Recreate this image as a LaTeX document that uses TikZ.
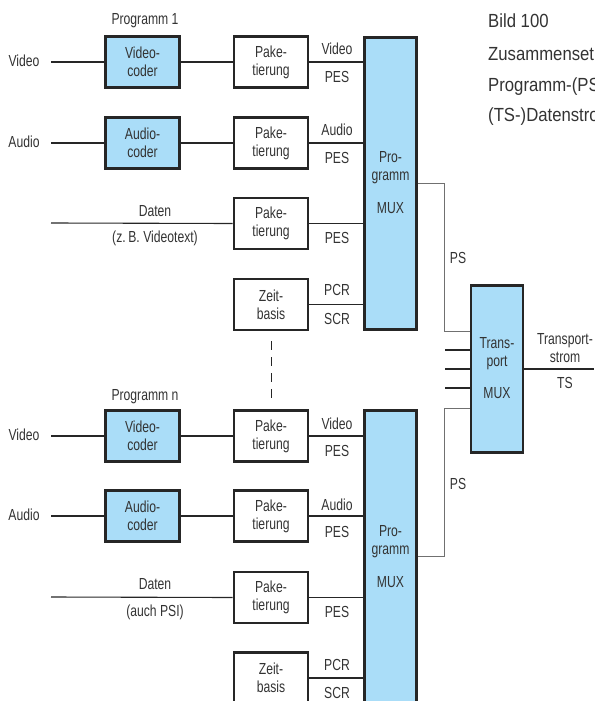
\documentclass[tikz,border=0pt]{standalone}
\usepackage{fontspec}
\setmainfont[FakeStretch=0.76]{Liberation Sans}
\newfontfamily\capfont[FakeStretch=0.88]{Liberation Sans}
\definecolor{boxfill}{HTML}{AADDF8}
\definecolor{txt}{HTML}{333333}
\definecolor{edge}{HTML}{262626}
\definecolor{psline}{HTML}{707070}
\begin{document}
\begin{tikzpicture}[x=1pt,y=-1pt,
  every node/.style={font=\fontsize{16}{18}\selectfont, text=txt, inner sep=0pt},
  blk/.style={draw=edge, line width=2.6pt, minimum width=74pt, minimum height=51pt, align=center},
  coder/.style={blk, fill=boxfill},
  mux/.style={draw=edge, line width=2.6pt, fill=boxfill, minimum width=52pt, align=center},
  wire/.style={line width=1.1pt, draw=edge},
  pswire/.style={line width=1pt, draw=psline},
  lbl/.style={align=center},
  captxt/.style={anchor=west, font=\capfont\fontsize{19}{22}\selectfont}
]
\useasboundingbox (0,0) rectangle (594,701);
\begin{scope}
\clip (0,0) rectangle (594,701);

% ---------- Program 1 ----------
\node[lbl] (p1) at (145,21) {Programm 1};
\node[coder] (vc1) at (142.5,62) {Video-\\coder};
\node[coder] (ac1) at (142.5,143) {Audio-\\coder};
\node[blk] (pk1) at (271,62) {Pake-\\tierung};
\node[blk] (pk2) at (271,143) {Pake-\\tierung};
\node[blk] (pk3) at (271,223.5) {Pake-\\tierung};
\node[blk] (zb1) at (271,304.5) {Zeit-\\basis};
\node[mux, minimum height=292pt] (mux1) at (390.5,183.5) {};
\node[lbl] (m1a) at (390.5,168) {Pro-\\gramm};
\node[lbl] (m1b) at (390.5,208) {MUX};

\node[lbl] (vin1) at (24,61) {Video};
\node[lbl] (ain1) at (24,142) {Audio};
\coordinate (vs1) at (51,62);
\coordinate (as1) at (51,143);
\coordinate (ds1) at (51,223);
\draw[wire] (vs1) -- (vc1.west);
\draw[wire] (as1) -- (ac1.west);
\draw[wire] (vc1.east) -- (pk1.west);
\draw[wire] (ac1.east) -- (pk2.west);
\draw[wire] (ds1) -- (pk3.west);
\node[lbl] (dl1) at (155,211) {Daten};
\node[lbl] (dl1b) at (155,238) {(z.\,B. Videotext)};

\draw[wire] (pk1.east) -- (pk1.east -| mux1.west);
\draw[wire] (pk2.east) -- (pk2.east -| mux1.west);
\draw[wire] (pk3.east) -- (pk3.east -| mux1.west);
\draw[wire] (zb1.east) -- (zb1.east -| mux1.west);
\node[lbl] (l1a) at (337,49) {Video};
\node[lbl] (l1b) at (337,77) {PES};
\node[lbl] (l2a) at (337,130) {Audio};
\node[lbl] (l2b) at (337,158) {PES};
\node[lbl] (l3b) at (337,238) {PES};
\node[lbl] (l4a) at (337,290) {PCR};
\node[lbl] (l4b) at (337,319) {SCR};

% ---------- dashed separator ----------
\draw[wire, line width=1pt, dash pattern=on 9pt off 7pt] ([yshift=-10pt]zb1.south) -- (271,401);

% ---------- Program n ----------
\node[lbl] (pn) at (145,397) {Programm n};
\node[coder] (vcn) at (142.5,436) {Video-\\coder};
\node[coder] (acn) at (142.5,516) {Audio-\\coder};
\node[blk] (pkn1) at (271,436) {Pake-\\tierung};
\node[blk] (pkn2) at (271,516) {Pake-\\tierung};
\node[blk] (pkn3) at (271,597.5) {Pake-\\tierung};
\node[blk] (zbn) at (271,678) {Zeit-\\basis};
\node[mux, minimum height=308pt] (muxn) at (390.5,564.5) {};
\node[lbl] (mna) at (390.5,542) {Pro-\\gramm};
\node[lbl] (mnb) at (390.5,582) {MUX};

\node[lbl] (vinn) at (24,435) {Video};
\node[lbl] (ainn) at (24,515) {Audio};
\coordinate (vsn) at (51,436);
\coordinate (asn) at (51,516);
\coordinate (dsn) at (51,597);
\draw[wire] (vsn) -- (vcn.west);
\draw[wire] (asn) -- (acn.west);
\draw[wire] (vcn.east) -- (pkn1.west);
\draw[wire] (acn.east) -- (pkn2.west);
\draw[wire] (dsn) -- (pkn3.west);
\node[lbl] (dln) at (155,584) {Daten};
\node[lbl] (dlnb) at (155,612) {(auch PSI)};

\draw[wire] (pkn1.east) -- (pkn1.east -| muxn.west);
\draw[wire] (pkn2.east) -- (pkn2.east -| muxn.west);
\draw[wire] (pkn3.east) -- (pkn3.east -| muxn.west);
\draw[wire] (zbn.east) -- (zbn.east -| muxn.west);
\node[lbl] (n1a) at (337,424) {Video};
\node[lbl] (n1b) at (337,451) {PES};
\node[lbl] (n2a) at (337,505) {Audio};
\node[lbl] (n2b) at (337,532) {PES};
\node[lbl] (n3b) at (337,612) {PES};
\node[lbl] (n4a) at (337,665) {PCR};
\node[lbl] (n4b) at (337,693) {SCR};

% ---------- Transport MUX ----------
\node[mux, minimum height=167pt] (tmux) at (497,369) {};
\node[lbl] (ta) at (497,354) {Trans-\\port};
\node[lbl] (tb) at (497,393) {MUX};

\draw[pswire] (mux1.east |- 0,183) -- (444,183) -- (444,331) -- (tmux.west |- 0,331);
\draw[pswire] (muxn.east |- 0,556) -- (444,556) -- (444,408) -- (tmux.west |- 0,408);
\node[lbl] (ps1) at (458,258) {PS};
\node[lbl] (ps2) at (458,484) {PS};

\coordinate (t1) at (445,350);
\coordinate (t2) at (445,369);
\coordinate (t3) at (445,388);
\draw[wire] (t1) -- (t1 -| tmux.west);
\draw[wire] (t2) -- (t2 -| tmux.west);
\draw[wire] (t3) -- (t3 -| tmux.west);

\coordinate (tout) at (594,369);
\draw[wire] (tmux.east) -- (tout);
\node[lbl] (tsa) at (565,348) {Transport-\\strom};
\node[lbl] (tsb) at (565,383) {TS};

% ---------- caption ----------
\node[captxt] (cap1) at (488,21) {Bild 100};
\node[captxt] (cap2) at (488,54) {Zusammenset};
\node[captxt] (cap3) at (488,87) {Programm-(PS};
\node[captxt] (cap4) at (488,117) {(TS-)Datenstro};
\end{scope}
\end{tikzpicture}
\end{document}
